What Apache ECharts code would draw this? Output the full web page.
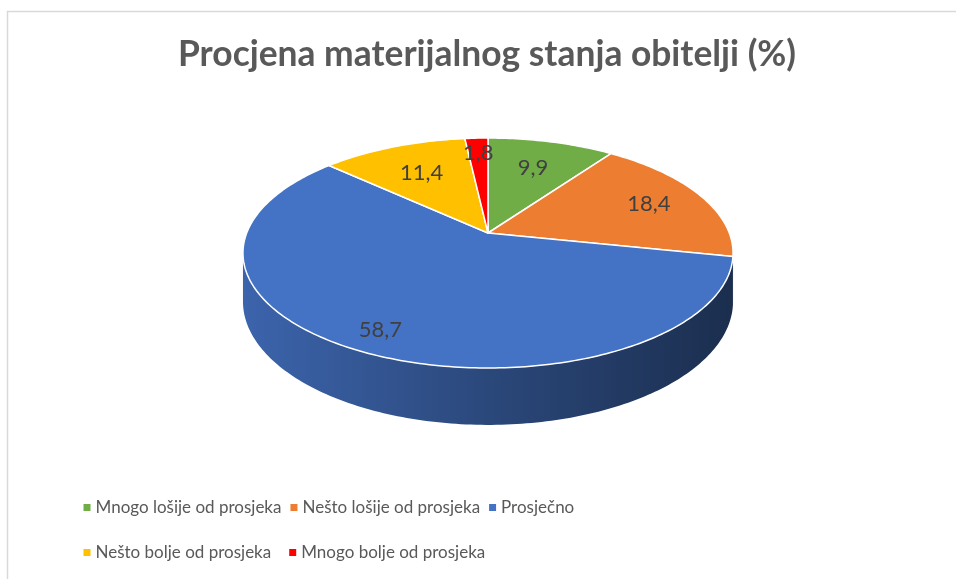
<!DOCTYPE html>
<html>
<head>
<meta charset="utf-8">
<script src="https://cdn.jsdelivr.net/npm/echarts@6/dist/echarts.min.js"></script>
<style>
html, body { margin: 0; padding: 0; background: #fff; }
#chart { width: 956px; height: 579px; }
</style>
</head>
<body>
<div id="chart"></div>
<script>
var categories = ['Mnogo lošije od prosjeka', 'Nešto lošije od prosjeka', 'Prosječno', 'Nešto bolje od prosjeka', 'Mnogo bolje od prosjeka'];
var values = [9.9, 18.4, 58.7, 11.4, 1.8];
var colors = ['#70AD47', '#ED7D31', '#4472C4', '#FFC000', '#FF0000'];
// where each value label sits, as a share of the radius (excel "best fit")
var labelRadius = [0.68, 0.75, 0.85, 0.67, 0.82];

// 3d pie geometry: centre, radii, perspective and height of the side
var CX = 488, CY = 233, RX = 241.3, RY = 111.5, PERSP = 0.174, DEPTH = 47;

var total = 0;
values.forEach(function(v) { total += v; });

function sliceAngles(i) {
    var s = 0;
    for (var j = 0; j < i; j++) s += values[j];
    return [s / total * 360, (s + values[i]) / total * 360];
}

// angle in degrees, clockwise from 12 o'clock (back of the pie)
function project(deg, r) {
    var t = deg * Math.PI / 180;
    var u = r * Math.sin(t), v = r * Math.cos(t);
    var w = 1 + PERSP * v;
    return [CX + RX * u / w, CY - RY * v / w];
}

function projectBottom(deg) {
    var p = project(deg, 1);
    var w = 1 + PERSP * Math.cos(deg * Math.PI / 180);
    return [p[0], p[1] + DEPTH / w];
}

function arc(a0, a1) {
    var pts = [];
    var n = Math.max(2, Math.ceil((a1 - a0) / 1));
    for (var k = 0; k <= n; k++) pts.push(project(a0 + (a1 - a0) * k / n, 1));
    return pts;
}

function shade(color, f) {
    var c = echarts.color.parse(color);
    return 'rgb(' + Math.round(c[0] * f) + ',' + Math.round(c[1] * f) + ',' + Math.round(c[2] * f) + ')';
}

function renderSlice(params, api) {
    var i = params.seriesIndex;
    var ang = sliceAngles(i);
    var color = colors[i];
    var children = [];
    // only the front part of the side wall can be seen
    var vis0 = 90 + Math.asin(PERSP) * 180 / Math.PI;
    var vis1 = 360 - vis0;
    var w0 = Math.max(ang[0], vis0), w1 = Math.min(ang[1], vis1);
    if (w1 > w0) {
        var pts = arc(w0, w1);
        var n = Math.max(2, Math.ceil(w1 - w0));
        for (var k = n; k >= 0; k--) pts.push(projectBottom(w0 + (w1 - w0) * k / n));
        var half = RX / Math.sqrt(1 - PERSP * PERSP);
        children.push({
            type: 'polygon',
            shape: { points: pts },
            style: {
                fill: {
                    type: 'linear', x: CX - half, y: 0, x2: CX + half, y2: 0, global: true,
                    colorStops: [
                        { offset: 0, color: shade(color, 0.88) },
                        { offset: 0.5, color: shade(color, 0.63) },
                        { offset: 1, color: shade(color, 0.4) }
                    ]
                }
            }
        });
    }
    var top = [project(0, 0)].concat(arc(ang[0], ang[1]));
    children.push({
        type: 'polygon',
        shape: { points: top },
        style: { fill: color, stroke: '#ffffff', lineWidth: 1.5, lineJoin: 'round' }
    });
    return { type: 'group', children: children };
}

function renderLabel(params, api) {
    var i = params.dataIndex;
    var ang = sliceAngles(i);
    var p = project((ang[0] + ang[1]) / 2, labelRadius[i]);
    return {
        type: 'text',
        x: p[0],
        y: p[1],
        style: {
            text: values[i].toFixed(1).replace('.', ','),
            fill: '#404040',
            fontFamily: 'Lato',
            fontSize: 22,
            align: 'center',
            verticalAlign: 'middle'
        }
    };
}

var series = categories.map(function(name, i) {
    return {
        type: 'custom',
        name: name,
        coordinateSystem: 'none',
        silent: true,
        animation: false,
        itemStyle: { color: colors[i] },
        data: [[values[i]]],
        renderItem: renderSlice
    };
});
series.push({
    type: 'custom',
    name: 'labels',
    coordinateSystem: 'none',
    silent: true,
    animation: false,
    z: 10,
    data: values.map(function(v, i) { return [i, v]; }),
    renderItem: renderLabel
});

var legendText = { fontFamily: 'Lato', fontSize: 17, color: '#595959' };

var chart = echarts.init(document.getElementById('chart'));
chart.setOption({
    backgroundColor: '#ffffff',
    animation: false,
    title: {
        text: 'Procjena materijalnog stanja obitelji (%)',
        left: 178,
        top: 37,
        padding: 0,
        textStyle: { fontFamily: 'Lato', fontWeight: 'bold', fontSize: 35.4, color: '#595959' }
    },
    legend: [
        {
            data: categories.slice(0, 3),
            left: 83.5, top: 499, padding: 0,
            icon: 'rect', itemWidth: 7, itemHeight: 7, itemGap: 9,
            selectedMode: false, textStyle: legendText
        },
        {
            data: categories.slice(3),
            left: 83.5, top: 544, padding: 0,
            icon: 'rect', itemWidth: 7, itemHeight: 7, itemGap: 18,
            selectedMode: false, textStyle: legendText
        }
    ],
    graphic: [{
        type: 'rect',
        silent: true,
        shape: { x: 7.5, y: 11.5, width: 1000, height: 1000 },
        style: { fill: 'none', stroke: '#d9d9d9', lineWidth: 1.5 }
    }],
    series: series
});
</script>
</body>
</html>
